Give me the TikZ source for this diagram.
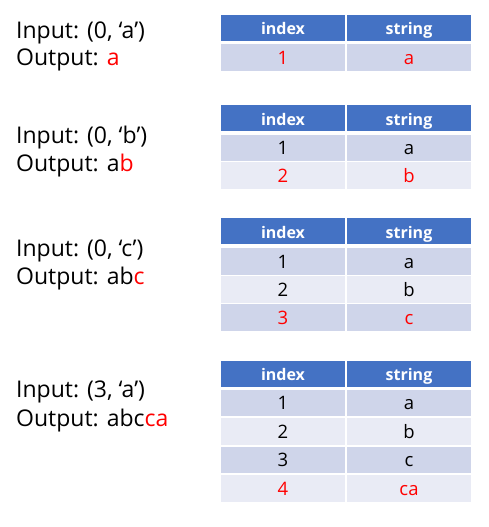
\documentclass[tikz,border=0pt]{standalone}
\usepackage{fontspec}
\setmainfont{Open Sans}
\usepackage{xcolor}
\definecolor{Col1}{RGB}{68,114,196}
\definecolor{Col2}{RGB}{207,213,234}
\definecolor{Col3}{RGB}{233,235,245}
\definecolor{Col4}{RGB}{255,0,0}
\usepackage{tikz}
\tikzstyle{Txt}=[anchor=base west,inner sep=0pt,
font=\fontsize{23}{28}\selectfont]
\tikzstyle{Head}=[fill=Col1,text=white,minimum width=124.5pt,
minimum height=26pt,inner sep=0pt,text height=14pt,text depth=0pt,
font=\fontsize{16}{18}\selectfont\bfseries]
\tikzstyle{Odd}=[fill=Col2,minimum width=124.5pt,minimum height=26.5pt,
inner sep=0pt,text height=13pt,text depth=0pt,
font=\fontsize{18.5}{20}\selectfont]
\tikzstyle{Even}=[Odd,fill=Col3]
\tikzstyle{New}=[text=Col4]
\newcommand{\New}[1]{\textcolor{Col4}{#1}}
\begin{document}
\begin{tikzpicture}[x=1pt,y=-1pt]
    \useasboundingbox(0,0)rectangle(489,527);
        % left texts
        \node[Txt](in1)at(16,38){Input: (0, ‘a’)};
        \node[Txt](out1)at(16,66){Output: \New{a}};
        \node[Txt](in2)at(16,143){Input: (0, ‘b’)};
        \node[Txt](out2)at(16,171.5){Output: a\New{b}};
        \node[Txt](in3)at(16,256.5){Input: (0, ‘c’)};
        \node[Txt](out3)at(16,284.5){Output: ab\New{c}};
        \node[Txt](in4)at(16,397){Input: (3, ‘a’)};
        \node[Txt](out4)at(16,426){Output: abc\New{ca}};
        % table 1
        \node[Head](1h0)at(283,28){index};
        \node[Head](1h1)at(409,28){string};
        \node[Odd,New](1r10)at(283,57.5){1};
        \node[Odd,New](1r11)at(409,57.5){a};
        % table 2
        \node[Head](2h0)at(283,118){index};
        \node[Head](2h1)at(409,118){string};
        \node[Odd](2r10)at(283,148){1};
        \node[Odd](2r11)at(409,148){a};
        \node[Even,New](2r20)at(283,175.5){2};
        \node[Even,New](2r21)at(409,175.5){b};
        % table 3
        \node[Head](3h0)at(283,231){index};
        \node[Head](3h1)at(409,231){string};
        \node[Odd](3r10)at(283,261.5){1};
        \node[Odd](3r11)at(409,261.5){a};
        \node[Even](3r20)at(283,289.5){2};
        \node[Even](3r21)at(409,289.5){b};
        \node[Odd,New](3r30)at(283,317.5){3};
        \node[Odd,New](3r31)at(409,317.5){c};
        % table 4
        \node[Head](4h0)at(283,373.5){index};
        \node[Head](4h1)at(409,373.5){string};
        \node[Odd](4r10)at(283,403){1};
        \node[Odd](4r11)at(409,403){a};
        \node[Even](4r20)at(283,431.5){2};
        \node[Even](4r21)at(409,431.5){b};
        \node[Odd](4r30)at(283,460){3};
        \node[Odd](4r31)at(409,460){c};
        \node[Even,New](4r40)at(283,488.5){4};
        \node[Even,New](4r41)at(409,488.5){ca};
    \end{tikzpicture}
\end{document}
